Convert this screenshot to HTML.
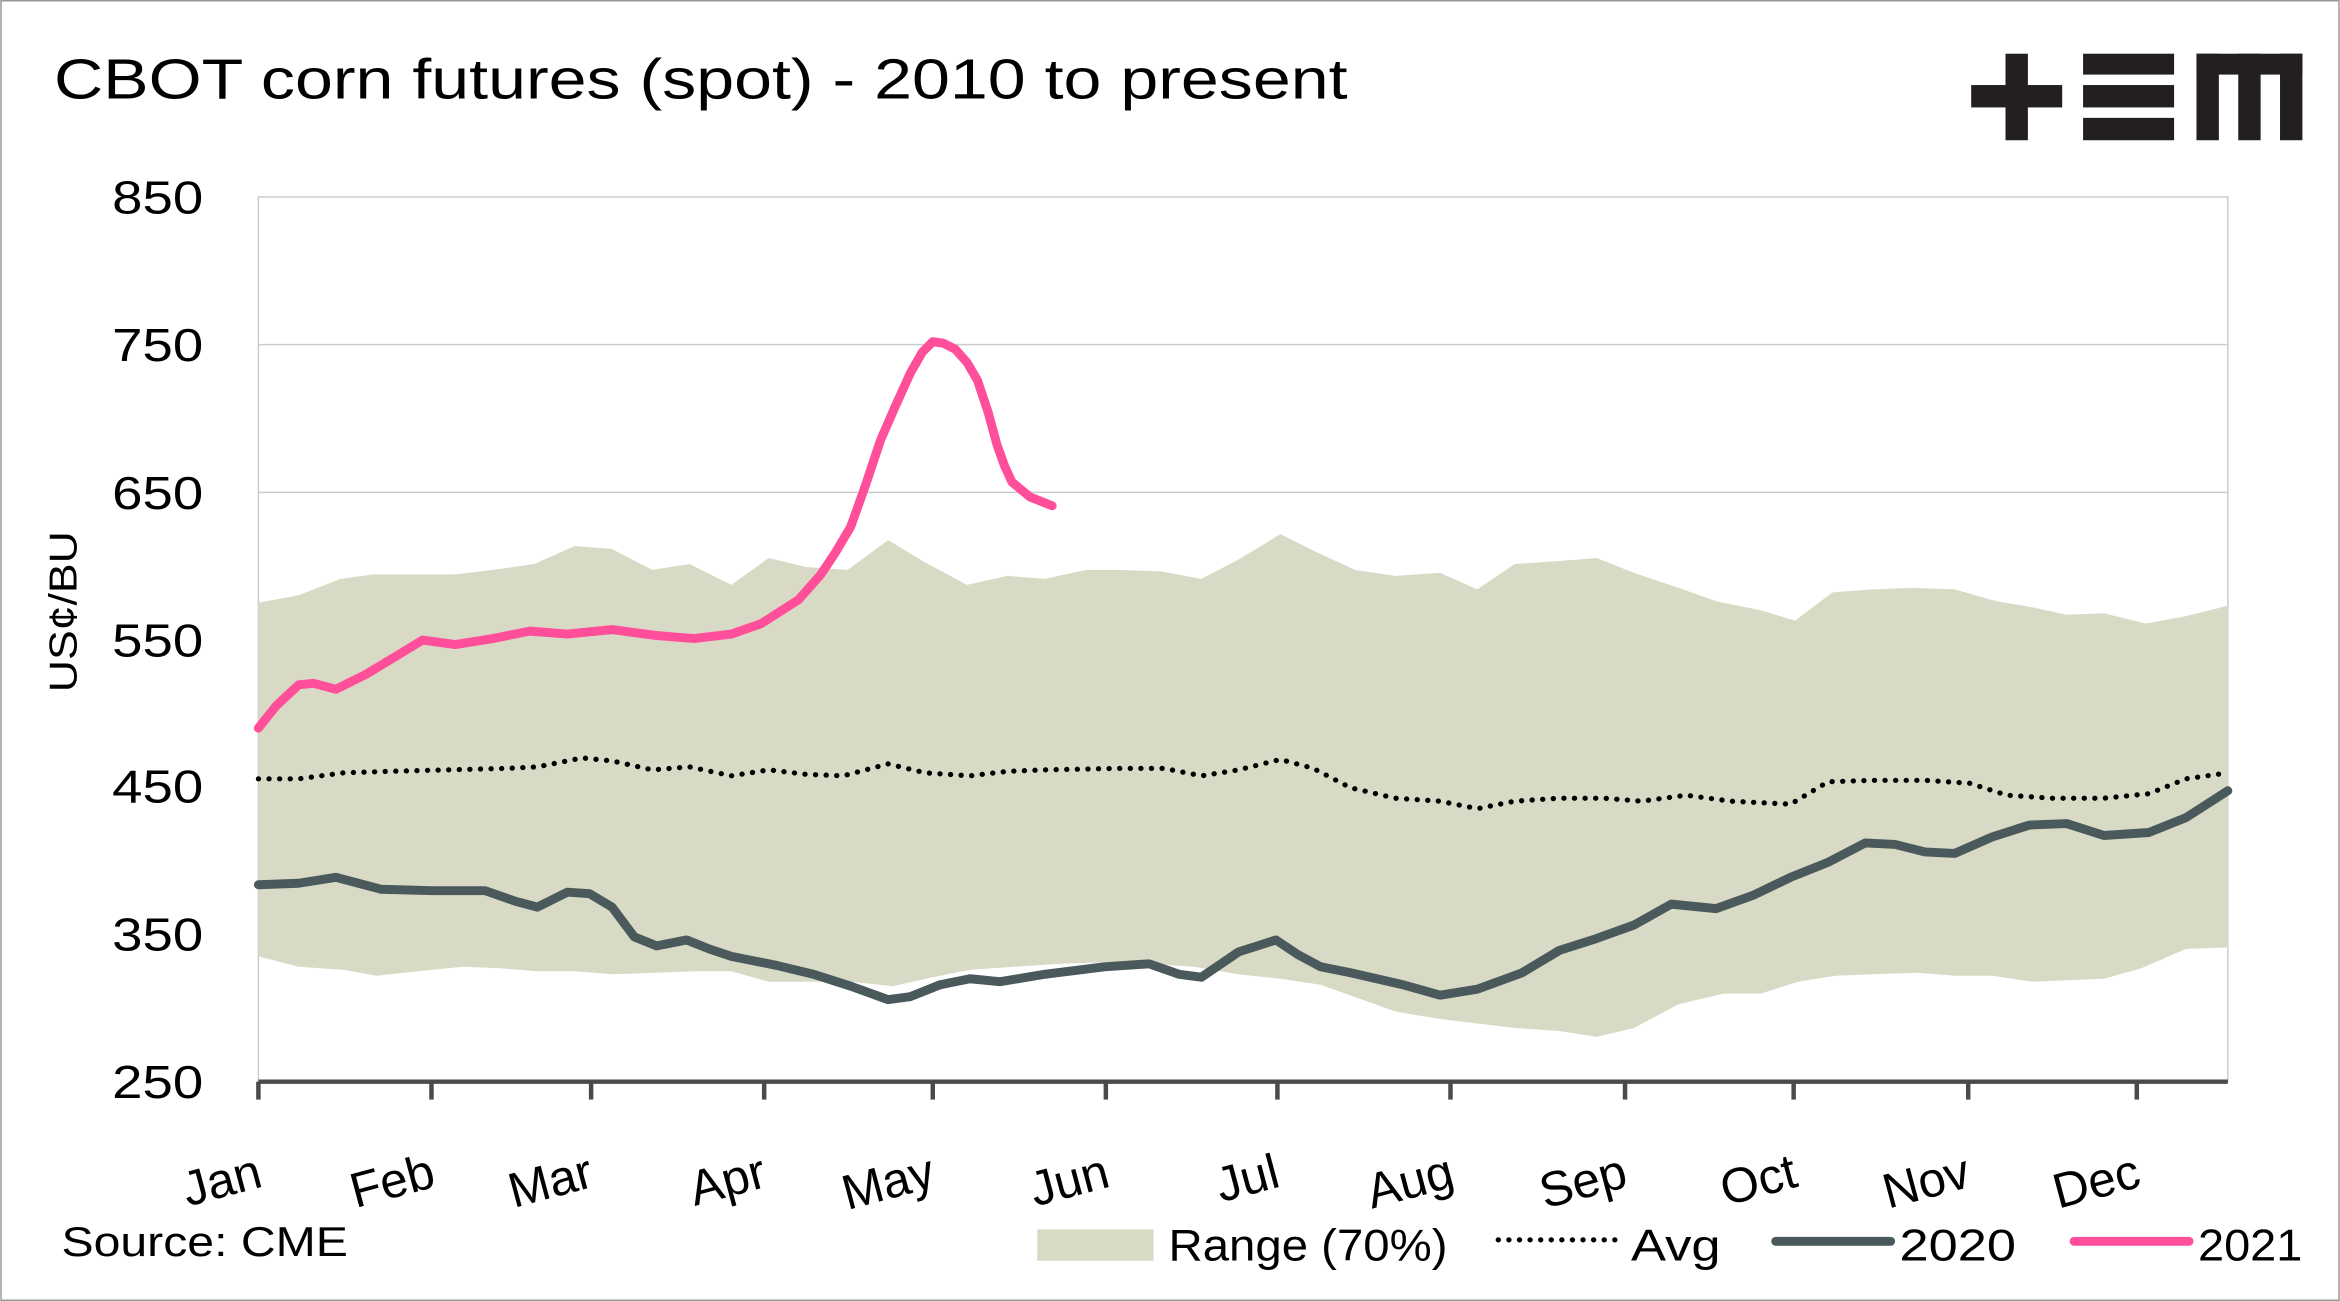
<!DOCTYPE html>
<html><head><meta charset="utf-8"><style>
html,body{margin:0;padding:0;background:#fff;}
svg{display:block;}
text{font-family:"Liberation Sans",sans-serif;fill:#000;}
</style></head><body>
<svg width="2340" height="1301" viewBox="0 0 1568 872" xmlns="http://www.w3.org/2000/svg">
<rect x="0.5" y="0.5" width="1567" height="871" fill="#fff" stroke="#999" stroke-width="1"/>
<text x="36" y="66" font-size="38" textLength="867" lengthAdjust="spacingAndGlyphs">CBOT corn futures (spot) - 2010 to present</text>
<g fill="#231f20">
<rect x="1321" y="57" width="61" height="15"/><rect x="1344" y="36" width="15" height="58"/>
<rect x="1396" y="36" width="61" height="14"/><rect x="1396" y="57" width="61" height="15"/><rect x="1396" y="79" width="61" height="15"/>
<rect x="1472" y="36" width="71" height="14"/><rect x="1472" y="36" width="15" height="58"/><rect x="1500" y="36" width="15" height="58"/><rect x="1528" y="36" width="15" height="58"/>
</g>
<rect x="173" y="132" width="1320" height="593" fill="none" stroke="#ccc" stroke-width="1"/>
<g stroke="#ccc" stroke-width="1">
<line x1="173" y1="231" x2="1493" y2="231"/><line x1="173" y1="330" x2="1493" y2="330"/><line x1="173" y1="429" x2="1493" y2="429"/><line x1="173" y1="527" x2="1493" y2="527"/><line x1="173" y1="626" x2="1493" y2="626"/>
</g>
<polygon fill="#d9dac5" points="173,404 200,399 228,388 250,385 275,385 305,385 330,382 358,378 385,366 410,368 437,382 462,378 490,392 515,374 540,380 568,382 595,362 620,377 648,392 675,386 700,388 728,382 750,382 778,383 805,388 830,375 858,358 882,370 908,382 935,386 965,384 990,395 1015,378 1045,376 1070,374 1095,384 1125,394 1150,403 1180,409 1203,416 1228,397 1255,395 1282,394 1310,395 1338,403 1362,407 1385,412 1410,411 1438,418 1465,413 1493,406 1493,635 1465,636 1435,649 1410,656 1385,657 1362,658 1335,654 1310,654 1285,652 1255,653 1230,654 1205,658 1180,666 1155,666 1125,673 1095,689 1070,695 1045,691 1015,689 990,686 965,683 935,678 910,669 885,660 858,656 830,653 800,648 770,646 740,645 710,646 680,648 650,650 625,655 598,661 570,658 545,658 515,658 490,651 465,651 440,652 410,653 385,651 360,651 335,649 310,648 280,651 252,654 230,650 200,648 173,641"/>
<polyline fill="none" stroke="#000" stroke-width="3.5" stroke-dasharray="0.1 7" stroke-linecap="round" points="173,522 200,522 230,518 260,517 300,516 340,515 360,514 390,508 410,510 437,516 462,514 490,520 515,516 540,519 565,520 595,512 620,518 650,520 675,517 700,516 750,515 780,515 805,520 830,516 858,509 880,515 905,528 935,535 965,537 990,542 1015,537 1045,535 1075,535 1100,537 1130,533 1160,537 1180,538 1200,539 1225,524 1255,523 1290,523 1320,525 1345,533 1375,535 1410,535 1440,532 1465,522 1493,518"/>
<polyline fill="none" stroke="#4a5a5c" stroke-width="6" stroke-linejoin="round" stroke-linecap="round" points="173,593 200,592 225,588 255,596 290,597 325,597 345,604 360,608 380,598 395,599 410,608 425,628 440,634 460,630 475,636 490,641 520,647 545,653 570,661 595,670 610,668 630,660 650,656 670,658 700,653 740,648 770,646 790,653 805,655 830,638 855,630 870,640 885,648 905,652 940,660 965,667 990,663 1020,652 1045,637 1070,629 1095,620 1120,606 1150,609 1175,600 1200,588 1225,578 1250,565 1270,566 1290,571 1310,572 1335,561 1360,553 1385,552 1410,560 1440,558 1465,548 1493,530"/>
<polyline fill="none" stroke="#ff4f9a" stroke-width="6" stroke-linejoin="round" stroke-linecap="round" points="173,488 185,473 200,459 210,458 225,462 245,452 265,440 283,429 305,432 330,428 355,423 380,425 410,422 440,426 465,428 490,425 510,418 535,402 550,385 560,370 570,353 580,325 590,295 600,272 610,250 618,236 625,229 632,230 640,234 648,243 655,255 662,276 668,298 673,312 678,323 690,333 705,339"/>
<line x1="173" y1="725" x2="1493" y2="725" stroke="#4a4a4a" stroke-width="3"/>
<g stroke="#4a4a4a" stroke-width="3">
<line x1="173" y1="725" x2="173" y2="737"/><line x1="289" y1="725" x2="289" y2="737"/><line x1="396" y1="725" x2="396" y2="737"/><line x1="512" y1="725" x2="512" y2="737"/><line x1="625" y1="725" x2="625" y2="737"/><line x1="741" y1="725" x2="741" y2="737"/><line x1="856" y1="725" x2="856" y2="737"/><line x1="972" y1="725" x2="972" y2="737"/><line x1="1089" y1="725" x2="1089" y2="737"/><line x1="1202" y1="725" x2="1202" y2="737"/><line x1="1319" y1="725" x2="1319" y2="737"/><line x1="1432" y1="725" x2="1432" y2="737"/>
</g>
<g font-size="31" text-anchor="end">
<text x="136" y="143" textLength="61" lengthAdjust="spacingAndGlyphs">850</text><text x="136" y="242" textLength="61" lengthAdjust="spacingAndGlyphs">750</text><text x="136" y="341" textLength="61" lengthAdjust="spacingAndGlyphs">650</text><text x="136" y="440" textLength="61" lengthAdjust="spacingAndGlyphs">550</text><text x="136" y="538" textLength="61" lengthAdjust="spacingAndGlyphs">450</text><text x="136" y="637" textLength="61" lengthAdjust="spacingAndGlyphs">350</text><text x="136" y="736" textLength="61" lengthAdjust="spacingAndGlyphs">250</text>
</g>
<text transform="translate(51,410) rotate(-90)" font-size="26" text-anchor="middle" textLength="108" lengthAdjust="spacingAndGlyphs">US¢/BU</text>
<g font-size="33" text-anchor="end">
<text transform="translate(177,795) rotate(-15)">Jan</text>
<text transform="translate(293,795) rotate(-15)">Feb</text>
<text transform="translate(399,795) rotate(-15)">Mar</text>
<text transform="translate(515,795) rotate(-15)">Apr</text>
<text transform="translate(628,795) rotate(-15)">May</text>
<text transform="translate(745,795) rotate(-15)">Jun</text>
<text transform="translate(859,795) rotate(-15)">Jul</text>
<text transform="translate(976,795) rotate(-15)">Aug</text>
<text transform="translate(1092,795) rotate(-15)">Sep</text>
<text transform="translate(1206,795) rotate(-15)">Oct</text>
<text transform="translate(1322,795) rotate(-15)">Nov</text>
<text transform="translate(1436,795) rotate(-15)">Dec</text>
</g>
<text x="41" y="842" font-size="28" textLength="192" lengthAdjust="spacingAndGlyphs">Source: CME</text>
<rect x="695" y="824" width="78" height="21" fill="#d9dac5"/>
<text x="783" y="845" font-size="30" textLength="187" lengthAdjust="spacingAndGlyphs">Range (70%)</text>
<line x1="1004" y1="831" x2="1083" y2="831" stroke="#000" stroke-width="3.5" stroke-dasharray="0.1 7" stroke-linecap="round"/>
<text x="1093" y="845" font-size="30" textLength="60" lengthAdjust="spacingAndGlyphs">Avg</text>
<line x1="1190" y1="832" x2="1267" y2="832" stroke="#4a5a5c" stroke-width="6" stroke-linecap="round"/>
<text x="1273" y="845" font-size="30" textLength="78" lengthAdjust="spacingAndGlyphs">2020</text>
<line x1="1390" y1="832" x2="1467" y2="832" stroke="#ff4f9a" stroke-width="6" stroke-linecap="round"/>
<text x="1473" y="845" font-size="30" textLength="70" lengthAdjust="spacingAndGlyphs">2021</text>
</svg>
</body></html>
